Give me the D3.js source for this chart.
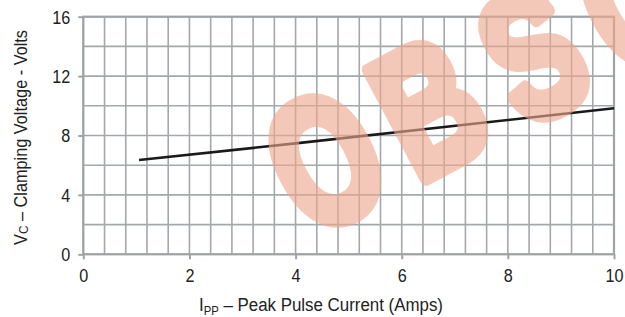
<!DOCTYPE html>
<html><head><meta charset="utf-8">
<script src="https://cdn.jsdelivr.net/npm/d3@7"></script>
<style>
html,body{margin:0;padding:0;background:#fff;}
svg{display:block;}
text{font-family:"Liberation Sans","Arial",sans-serif;fill:#222;}
</style></head>
<body>
<svg id="chart" width="625" height="317"></svg>
<script>
const xTicks = [0, 2, 4, 6, 8, 10];
const yTicks = [0, 4, 8, 12, 16];
const ippAmps = [1.05, 4, 10];
const vcVolts = [6.35, 7.47, 9.83];
const xTitle = ["I", "PP", " – Peak Pulse Current (Amps)"];
const yTitle = ["V", "C", " – Clamping Voltage - Volts"];
const watermark = ["O", "B", "S", "O"];

const W = 625, H = 317;
const m = {left: 83.3, right: 11, top: 16.7, bottom: 62.7};
const svg = d3.select("#chart");
const x = d3.scaleLinear().domain([0, 10]).range([m.left, W - m.right]);
const y = d3.scaleLinear().domain([0, 16]).range([H - m.bottom, m.top]);

const gridCol = "#a3a8aa";
const g = svg.append("g");
g.selectAll(".vx").data(d3.range(0, 10.001, 0.4)).join("line")
  .attr("x1", d => x(d)).attr("x2", d => x(d))
  .attr("y1", y(0)).attr("y2", y(16))
  .attr("stroke", gridCol).attr("stroke-width", 1.6);
g.selectAll(".hy").data(d3.range(0, 16.001, 2)).join("line")
  .attr("x1", x(0)).attr("x2", x(10))
  .attr("y1", d => y(d)).attr("y2", d => y(d))
  .attr("stroke", gridCol).attr("stroke-width", 1.6);
g.append("rect").attr("x", x(0)).attr("y", y(16))
  .attr("width", x(10) - x(0)).attr("height", y(0) - y(16))
  .attr("fill", "none").attr("stroke", "#9ea3a5").attr("stroke-width", 2.2);

const xAxis = svg.append("g").attr("transform", `translate(0,${y(0)})`)
  .call(d3.axisBottom(x).tickValues(xTicks).tickSize(5).tickPadding(6).tickFormat(d3.format("d")));
const yAxis = svg.append("g").attr("transform", `translate(${x(0)},0)`)
  .call(d3.axisLeft(y).tickValues(yTicks).tickSize(5).tickPadding(8).tickFormat(d3.format("d")));
[xAxis, yAxis].forEach(a => {
  a.select(".domain").remove();
  a.selectAll(".tick line").attr("stroke", "#9ea3a5").attr("stroke-width", 2);
  a.selectAll(".tick text").attr("font-size", 18)
    .attr("font-family", '"Liberation Sans",Arial,sans-serif').attr("fill", "#222")
    .attr("textLength", d => d >= 10 ? 18 : 9).attr("lengthAdjust", "spacingAndGlyphs");
});
xAxis.selectAll(".tick text").attr("dy", "0.95em");
xAxis.selectAll(".tick").filter(d => d === 10).select("text").attr("text-anchor", "end").attr("dx", "0.5em");
yAxis.selectAll(".tick text").attr("dy", "0.35em");

const pts = ippAmps.map((v, i) => [v, vcVolts[i]]);
svg.append("path").datum(pts)
  .attr("d", d3.line().x(d => x(d[0])).y(d => y(d[1])))
  .attr("fill", "none").attr("stroke", "#1a1a1a").attr("stroke-width", 2.6);

const xt = svg.append("text").attr("x", 199).attr("y", 311).attr("font-size", 18)
  .attr("textLength", 244).attr("lengthAdjust", "spacingAndGlyphs");
xt.append("tspan").text(xTitle[0]);
xt.append("tspan").text(xTitle[1]).attr("font-size", 12).attr("dy", 4);
xt.append("tspan").text(xTitle[2]).attr("dy", -4);

const yt = svg.append("text").attr("transform", "translate(27,245) rotate(-90)")
  .attr("font-size", 18).attr("textLength", 215).attr("lengthAdjust", "spacingAndGlyphs");
yt.append("tspan").text(yTitle[0]);
yt.append("tspan").text(yTitle[1]).attr("font-size", 13).attr("dy", 1);
yt.append("tspan").text(yTitle[2]).attr("dy", -1);

// watermark, one letter at a time along a rising diagonal
const wm = svg.append("g").attr("opacity", 0.62);
wm.selectAll("text").data(watermark).join("text")
  .attr("transform", (d, i) => `translate(${324 + i * 104},${158 - i * 53}) rotate(-28) scale(0.72,1)`)
  .attr("text-anchor", "middle").attr("dy", "0.36em")
  .attr("font-family", '"Liberation Serif","Times New Roman",serif').attr("font-weight", "bold")
  .attr("font-size", 178)
  .style("fill", "rgb(238,168,142)")
  .style("stroke", "rgb(238,168,142)").style("stroke-width", 14).style("stroke-linejoin", "round")
  .text(d => d);
</script>
</body></html>
